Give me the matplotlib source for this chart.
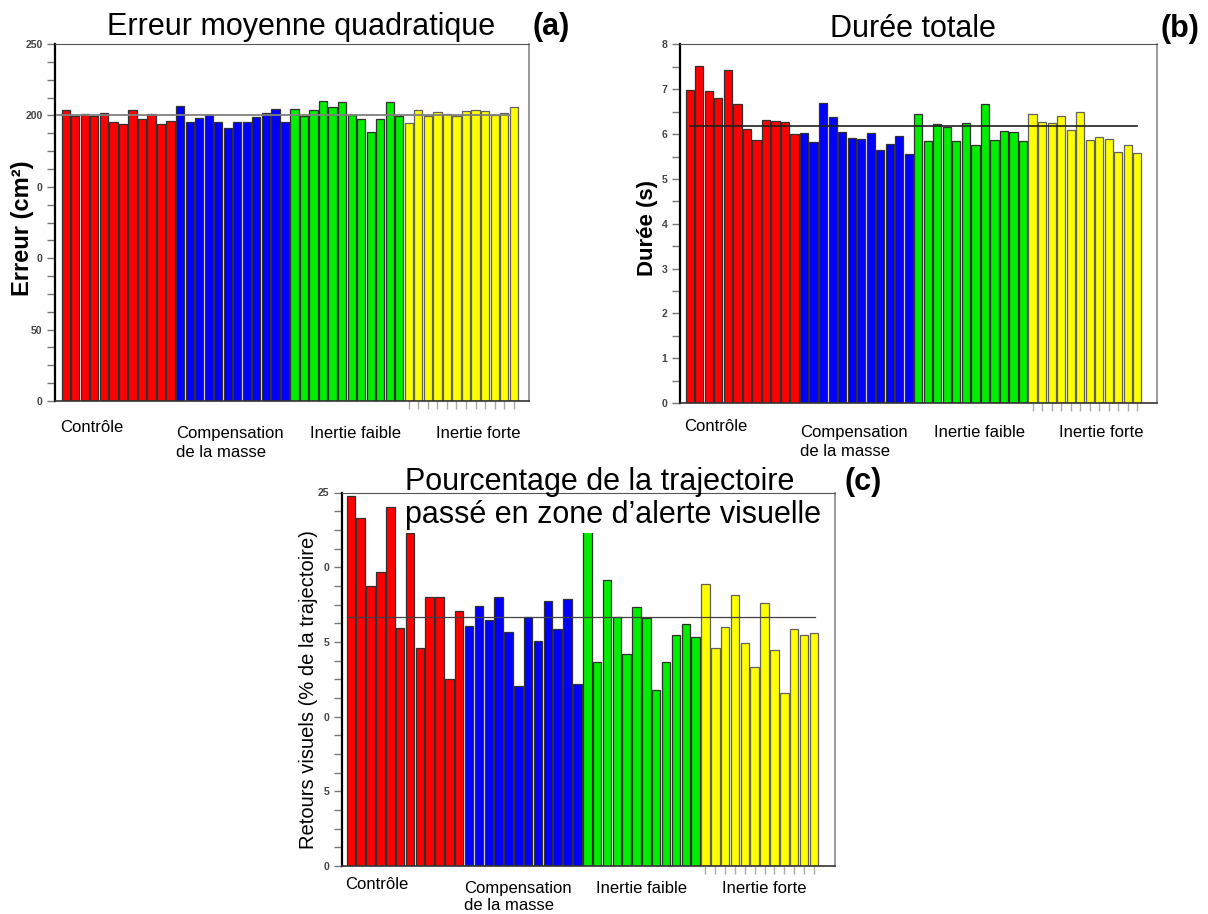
import matplotlib.pyplot as plt
import numpy as np
from matplotlib.ticker import MultipleLocator

plt.rcParams['font.family'] = ['Liberation Sans', 'DejaVu Sans']

W, H = 1208, 914

groupes = ["Contrôle", "Compensation\nde la masse", "Inertie faible", "Inertie forte"]
couleurs = ['#ff0000', '#0000ff', '#00ee00', '#ffff00']
bords = ['#303030', '#303030', '#303030', '#606060']

# (a) erreur moyenne quadratique (cm2)
erreur_controle = [203.8, 199.6, 201.0, 199.6, 201.7, 195.2, 194.2, 203.8, 197.2, 201.0, 194.2, 196.0]
erreur_compensation = [206.8, 195.6, 198.0, 200.0, 195.6, 191.0, 195.2, 195.2, 198.6, 201.7, 204.5, 195.6]
erreur_faible = [204.2, 199.6, 203.8, 210.3, 205.9, 209.6, 200.5, 197.7, 188.4, 197.7, 209.6, 199.3]
erreur_forte = [194.9, 203.5, 199.8, 202.2, 201.2, 199.8, 203.1, 203.8, 203.3, 200.5, 201.5, 206.1]
erreur_moyenne = 200.0

# (b) duree totale (s)
duree_controle = [6.99, 7.51, 6.96, 6.80, 7.43, 6.67, 6.12, 5.86, 6.32, 6.30, 6.27, 6.00]
duree_compensation = [6.03, 5.83, 6.70, 6.38, 6.05, 5.92, 5.90, 6.03, 5.65, 5.78, 5.96, 5.56]
duree_faible = [6.45, 5.85, 6.23, 6.16, 5.84, 6.24, 5.75, 6.68, 5.87, 6.06, 6.05, 5.84]
duree_forte = [6.45, 6.27, 6.24, 6.41, 6.10, 6.50, 5.87, 5.94, 5.90, 5.59, 5.75, 5.57]
duree_moyenne = 6.18

# (c) retours visuels (% de la trajectoire)
retours_controle = [24.79, 23.27, 18.74, 19.65, 24.0, 15.91, 22.31, 14.59, 18.0, 18.0, 12.52, 17.07]
retours_compensation = [16.09, 17.40, 16.49, 18.0, 15.68, 12.07, 16.64, 15.06, 17.72, 15.84, 17.89, 12.20]
retours_faible = [22.49, 13.68, 19.12, 16.64, 14.21, 17.36, 16.60, 11.80, 13.68, 15.46, 16.20, 15.35]
retours_forte = [18.85, 14.61, 16.0, 18.16, 14.90, 13.30, 17.58, 14.48, 11.58, 15.84, 15.44, 15.62]
retours_moyenne = 16.64

ticks_a = [0, 50, 100, 150, 200, 250]
labels_a = ['0', '50', '0', '0', '200', '250']
ticks_b = [0, 1, 2, 3, 4, 5, 6, 7, 8]
labels_b = ['0', '1', '2', '3', '4', '5', '6', '7', '8']
ticks_c = [0, 5, 10, 15, 20, 25]
labels_c = ['0', '5', '0', '5', '0', '25']


def panneau(ax, series, moyenne, span, lcol, lw, xlim, ylim, minor,
            ticks, labels, lab_x, lab_off, interligne):
    x0 = 0
    jaunes = []
    for vals, c, e in zip(series, couleurs, bords):
        xs = np.arange(x0, x0 + len(vals))
        ax.bar(xs, vals, width=0.86, color=c, edgecolor=e, linewidth=0.9, zorder=2)
        if c == '#ffff00':
            jaunes = list(xs)
        x0 += len(vals)
    ax.plot(span, [moyenne, moyenne], color=lcol, lw=lw, zorder=3)
    ax.set_xlim(*xlim)
    ax.set_ylim(*ylim)
    ax.set_yticks(ticks)
    ax.set_yticklabels(labels, fontweight='bold')
    ax.yaxis.set_minor_locator(MultipleLocator(minor))
    ax.tick_params(axis='y', which='both', direction='out', length=6, width=1,
                   color='#777777', labelsize=7.5, labelcolor='#444444', pad=3)
    ax.set_xticks(jaunes)
    ax.tick_params(axis='x', direction='out', length=6, width=1, color='#aaaaaa',
                   labelbottom=False)
    ax.spines['left'].set_color('black')
    ax.spines['left'].set_linewidth(1.6)
    ax.spines['bottom'].set_color('#333333')
    ax.spines['bottom'].set_linewidth(1.2)
    ax.spines['top'].set_color('#555555')
    ax.spines['right'].set_color('#888888')
    ax.spines['right'].set_linewidth(1.2)
    for g, x, off in zip(groupes, lab_x, lab_off):
        ax.annotate(g, xy=(x, 0), xycoords=('data', 'axes fraction'),
                    xytext=(0, -off), textcoords='offset pixels',
                    ha='left', va='top', fontsize=12, linespacing=interligne)


fig = plt.figure(figsize=(W / 100, H / 100), dpi=100)

ax_a = fig.add_axes([55 / W, 1 - 401 / H, 474 / W, 357 / H])
panneau(ax_a, [erreur_controle, erreur_compensation, erreur_faible, erreur_forte],
        erreur_moyenne, [-0.9, 46.6], '#808080', 1.3, (-1.13, 48.61), (0, 250), 12.5,
        ticks_a, labels_a, [-0.6, 11.6, 25.6, 38.9], [19, 25, 25, 25], 1.3)

ax_b = fig.add_axes([680 / W, 1 - 403 / H, 477 / W, 358.5 / H])
panneau(ax_b, [duree_controle, duree_compensation, duree_faible, duree_forte],
        duree_moyenne, [0, 47.0], '#202020', 1.2, (-1.03, 49.07), (0, 8), 0.5,
        ticks_b, labels_b, [-0.6, 11.6, 25.6, 38.8], [16, 22, 22, 22], 1.3)

ax_c = fig.add_axes([342 / W, 1 - 866 / H, 493 / W, 373.5 / H])
panneau(ax_c, [retours_controle, retours_compensation, retours_faible, retours_forte],
        retours_moyenne, [-0.4, 47.1], '#404040', 0.9, (-0.9, 49.15), (0, 25), 1.25,
        ticks_c, labels_c, [-0.55, 11.5, 24.9, 37.7], [11, 15, 15, 15], 1.15)

# titres
fig.text(107 / W, 1 - 35 / H, "Erreur moyenne quadratique", fontsize=22, va='baseline')
fig.text(532 / W, 1 - 35 / H, "(a)", fontsize=22, fontweight='bold', va='baseline')
fig.text(830 / W, 1 - 37 / H, "Durée totale", fontsize=22, va='baseline')
fig.text(1160 / W, 1 - 37 / H, "(b)", fontsize=22, fontweight='bold', va='baseline')
fig.text(405 / W, 1 - 490 / H, "Pourcentage de la trajectoire", fontsize=22, va='baseline')
fig.text(405 / W, 1 - 523 / H, "passé en zone d\u2019alerte visuelle", fontsize=22,
         va='baseline', zorder=5,
         bbox=dict(facecolor='white', edgecolor='none', pad=2))
fig.text(845 / W, 1 - 490 / H, "(c)", fontsize=22, fontweight='bold', va='baseline')

# titres des axes
fig.text(22 / W, 1 - 228 / H, "Erreur (cm²)", fontsize=17, fontweight='bold',
         rotation=90, ha='center', va='center')
fig.text(647 / W, 1 - 228 / H, "Durée (s)", fontsize=16, fontweight='bold',
         rotation=90, ha='center', va='center')
fig.text(308 / W, 1 - 690 / H, "Retours visuels (% de la trajectoire)", fontsize=14.5,
         rotation=90, ha='center', va='center')

fig.savefig('out.png', dpi=100)
